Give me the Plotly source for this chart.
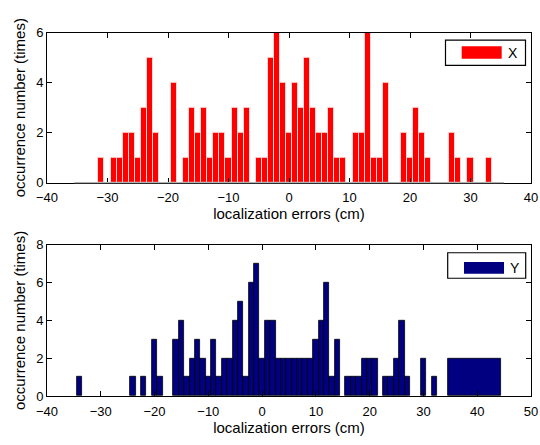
import plotly.graph_objects as go

# Histogram of X localization errors (1 cm bins; empty bins omitted)
x_centers = [-31, -29, -28, -27, -26, -25, -24, -23, -22, -19, -17, -16, -15, -14,
             -13, -12, -11, -10, -9, -8, -7, -5, -4, -3, -2, -1, 0, 1, 2, 3, 4,
             5, 6, 7, 8, 9, 11, 12, 13, 14, 15, 16, 19, 20, 21, 22, 23, 27, 28,
             30, 33]
x_counts = [1, 1, 1, 2, 2, 1, 3, 5, 2, 4, 1, 3, 2, 3,
            1, 2, 2, 1, 3, 2, 3, 1, 1, 5, 6, 4, 2, 4, 3, 5, 3,
            2, 2, 3, 1, 1, 2, 2, 6, 1, 1, 4, 2, 1, 3, 2, 1, 2, 1,
            1, 1]
x_bin_span = [-35, 35]   # first and last bin centres of the X histogram

# Histogram of Y localization errors (1 cm bins, plus one wide tail bin)
y_centers = [-34, -24, -22, -20, -19, -16, -15, -14, -13, -12, -11, -10, -9, -8,
             -7, -6, -5, -4, -3, -2, -1, 0, 1, 2, 3, 4, 5, 6, 7, 8, 9, 10,
             11, 12, 13, 14, 16, 17, 18, 19, 20, 21, 23, 24, 25, 26, 27, 30, 32]
y_counts = [1, 1, 1, 3, 1, 3, 4, 1, 2, 3, 2, 1, 3, 1,
            2, 2, 4, 5, 1, 6, 7, 2, 4, 4, 2, 2, 2, 2, 2, 2, 2, 3,
            4, 6, 1, 3, 1, 1, 1, 2, 2, 2, 1, 1, 2, 4, 1, 2, 1]
y_tail_edges = [34.5, 44.5]
y_tail_count = 2

x_ticks = [-40, -30, -20, -10, 0, 10, 20, 30, 40]
y_ticks_top = [0, 2, 4, 6]
x2_ticks = [-40, -30, -20, -10, 0, 10, 20, 30, 40, 50]
y_ticks_bottom = [0, 2, 4, 6, 8]

W, H = 540, 445
ML, MR = 47, 9
PW = W - ML - MR

FONT = "Liberation Sans, Arial, sans-serif"


def px_x(px):
    return (px - ML) / PW


def px_y(py):
    return (H - py) / H


# Plot-area boxes (pixel rows)
TOP_Y0, TOP_Y1 = 26.7, 181.7
BOT_Y0, BOT_Y1 = 246.0, 402.7

fig = go.Figure()

fig.add_trace(go.Bar(
    x=x_centers, y=x_counts, width=1,
    marker=dict(color="#ff0000", line=dict(color="#ffd8d8", width=1)),
    xaxis="x", yaxis="y", showlegend=False, name="X",
))

tail_center = (y_tail_edges[0] + y_tail_edges[1]) / 2
tail_width = y_tail_edges[1] - y_tail_edges[0]
fig.add_trace(go.Bar(
    x=y_centers + [tail_center], y=y_counts + [y_tail_count],
    width=[1] * len(y_centers) + [tail_width],
    marker=dict(color="#000080", line=dict(color="#000000", width=0.8)),
    xaxis="x2", yaxis="y2", showlegend=False, name="Y",
))

axis_common = dict(
    showline=True, linecolor="black", linewidth=1, mirror="ticks",
    ticks="inside", ticklen=5, tickcolor="black", tickwidth=1,
    showgrid=False, zeroline=False,
    tickfont=dict(family=FONT, size=13, color="black"),
)

title_font = dict(family=FONT, size=15, color="black")

fig.update_layout(
    width=W, height=H,
    margin=dict(l=ML, r=MR, t=0, b=0),
    paper_bgcolor="white", plot_bgcolor="white",
    bargap=0,
    xaxis=dict(range=[-40, 40], tickvals=x_ticks, domain=[0, 1], anchor="y",
               ticklabelstandoff=3,
               title=dict(text="localization errors (cm)", font=title_font, standoff=1),
               **axis_common),
    yaxis=dict(range=[0, 6], tickvals=y_ticks_top,
               domain=[px_y(TOP_Y1), px_y(TOP_Y0)], anchor="x",
               title=dict(text="occurrence number (times)", font=title_font, standoff=6),
               **axis_common),
    xaxis2=dict(range=[-40, 50], tickvals=x2_ticks, domain=[0, 1], anchor="y2",
                ticklabelstandoff=3,
                title=dict(text="localization errors (cm)", font=title_font, standoff=1),
                **axis_common),
    yaxis2=dict(range=[0, 8], tickvals=y_ticks_bottom,
                domain=[px_y(BOT_Y1), px_y(BOT_Y0)], anchor="x2",
                title=dict(text="occurrence number (times)", font=title_font, standoff=6),
                **axis_common),
)

# Light baseline under the span of X histogram bins
fig.add_shape(type="line", xref="x", yref="paper",
              x0=x_bin_span[0] - 0.5, x1=x_bin_span[1] + 0.5,
              y0=px_y(TOP_Y1), y1=px_y(TOP_Y1),
              line=dict(color="#b0b0b0", width=1.2), layer="above")


# Legend boxes drawn by hand (wide colour swatch + label)
def legend_box(x0, y0, x1, y1, sw_x0, sw_y0, sw_x1, sw_y1, color, label, lx, ly):
    fig.add_shape(type="rect", xref="paper", yref="paper",
                  x0=px_x(x0), x1=px_x(x1), y0=px_y(y1), y1=px_y(y0),
                  line=dict(color="black", width=1.2), fillcolor="white", layer="above")
    fig.add_shape(type="rect", xref="paper", yref="paper",
                  x0=px_x(sw_x0), x1=px_x(sw_x1), y0=px_y(sw_y1), y1=px_y(sw_y0),
                  line=dict(color=color, width=0), fillcolor=color, layer="above")
    fig.add_annotation(xref="paper", yref="paper", x=px_x(lx), y=px_y(ly),
                       text=label, showarrow=False, xanchor="left", yanchor="middle",
                       font=dict(family=FONT, size=14, color="black"))


legend_box(445.5, 34.3, 525.5, 60.5, 461.7, 40.5, 501.7, 53.5, "#ff0000", "X", 506, 47.5)
legend_box(447.7, 254.3, 525.7, 280.7, 464, 264, 504, 276, "#000080", "Y", 508, 270)

fig.write_html("out.html")
